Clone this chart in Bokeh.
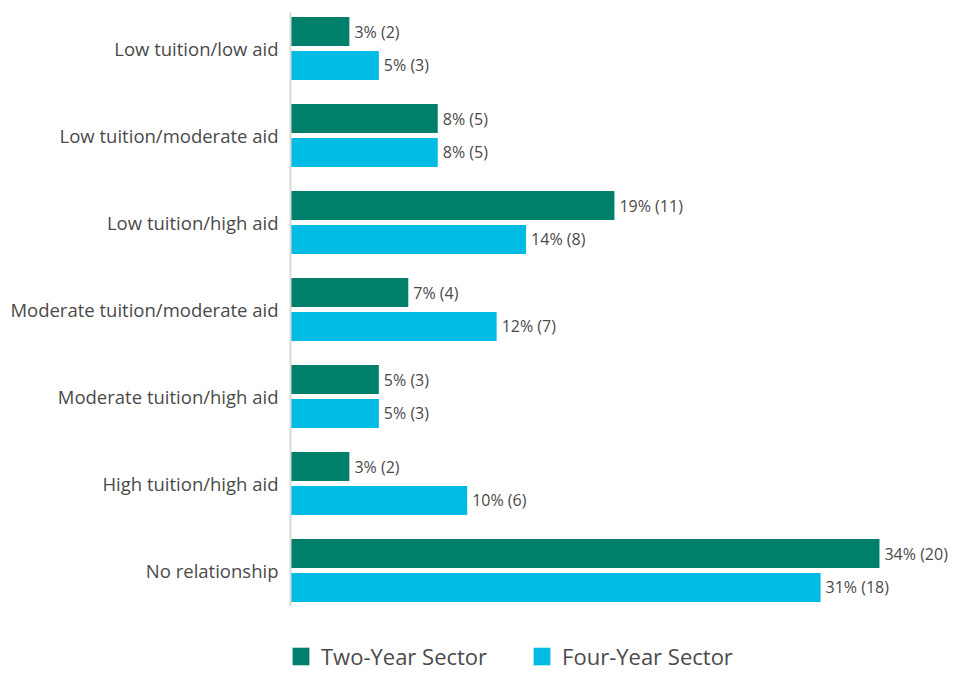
from bokeh.plotting import figure
from bokeh.models import ColumnDataSource, FactorRange, Range1d, Legend, LegendItem
from bokeh.layouts import column
from bokeh.transform import dodge
from bokeh.embed import file_html
from bokeh.resources import INLINE
from bokeh.core.properties import value

categories = ["Low tuition/low aid", "Low tuition/moderate aid", "Low tuition/high aid",
              "Moderate tuition/moderate aid", "Moderate tuition/high aid",
              "High tuition/high aid", "No relationship"]
two_year_counts = [2, 5, 11, 4, 3, 2, 20]
two_year_pct = [3, 8, 19, 7, 5, 3, 34]
four_year_counts = [3, 5, 8, 7, 3, 6, 18]
four_year_pct = [5, 8, 14, 12, 5, 10, 31]
series_names = ["Two-Year Sector", "Four-Year Sector"]
colors = ["#00806A", "#00BCE4"]

FONT = "Open Sans"
TEXT_COLOR = "#4a4a4a"

src = ColumnDataSource(dict(
    cat=categories,
    two=two_year_counts,
    four=four_year_counts,
    two_lbl=[f"{p}% ({c})" for p, c in zip(two_year_pct, two_year_counts)],
    four_lbl=[f"{p}% ({c})" for p, c in zip(four_year_pct, four_year_counts)],
))

yr = FactorRange(factors=list(reversed(categories)), range_padding=-0.086, range_padding_units="absolute")
p = figure(width=952, height=606, y_range=yr, x_range=Range1d(0, 22.48),
           output_backend="svg", toolbar_location=None,
           min_border_left=290, min_border_right=0, min_border_top=12, min_border_bottom=0)
p.outline_line_color = None
p.grid.visible = False
p.xaxis.visible = False

ax = p.yaxis[0]
ax.axis_line_color = "#d9d9d9"
ax.axis_line_width = 2
ax.major_tick_line_color = None
ax.minor_tick_line_color = None
ax.major_tick_out = 0
ax.major_tick_in = 0
ax.major_label_standoff = 12
ax.major_label_text_font = FONT
ax.major_label_text_font_size = "18.5px"
ax.major_label_text_color = TEXT_COLOR

p.hbar(y=dodge("cat", 0.195, range=p.y_range), left=0, right="two", height=0.335,
       source=src, fill_color=colors[0], line_color=None)
p.hbar(y=dodge("cat", -0.195, range=p.y_range), left=0, right="four", height=0.335,
       source=src, fill_color=colors[1], line_color=None)

p.text(x="two", y=dodge("cat", 0.195, range=p.y_range), text="two_lbl", source=src,
       x_offset=5, text_baseline="middle", text_font=value(FONT), text_font_size="16px",
       text_color=TEXT_COLOR)
p.text(x="four", y=dodge("cat", -0.195, range=p.y_range), text="four_lbl", source=src,
       x_offset=5, text_baseline="middle", text_font=value(FONT), text_font_size="16px",
       text_color=TEXT_COLOR)

# Legend strip below the chart (zero-width bars only supply legend swatches)
lg = figure(width=952, height=66, x_range=Range1d(0, 1), y_range=Range1d(0, 1),
            output_backend="svg", toolbar_location=None,
            min_border_left=0, min_border_right=0, min_border_top=0, min_border_bottom=0)
lg.axis.visible = False
lg.grid.visible = False
lg.outline_line_color = None
swatch = ColumnDataSource(dict(y=[0.5], left=[0], right=[0]))
g1 = lg.hbar(y="y", left="left", right="right", height=0.5, source=swatch,
             fill_color=colors[0], line_color=None)
g2 = lg.hbar(y="y", left="left", right="right", height=0.5, source=swatch,
             fill_color=colors[1], line_color=None)

legend = Legend(items=[LegendItem(label=series_names[0], renderers=[g1]),
                       LegendItem(label=series_names[1], renderers=[g2])],
                orientation="horizontal", location=(0, 1),
                label_text_font=FONT, label_text_font_size="22px", label_text_color=TEXT_COLOR,
                glyph_width=21, glyph_height=22, label_standoff=10, spacing=44,
                border_line_color=None, background_fill_alpha=0, margin=0, padding=0)
lg.add_layout(legend, "center")

layout = column(p, lg, spacing=0)
open("out.html", "w").write(file_html(layout, INLINE))
